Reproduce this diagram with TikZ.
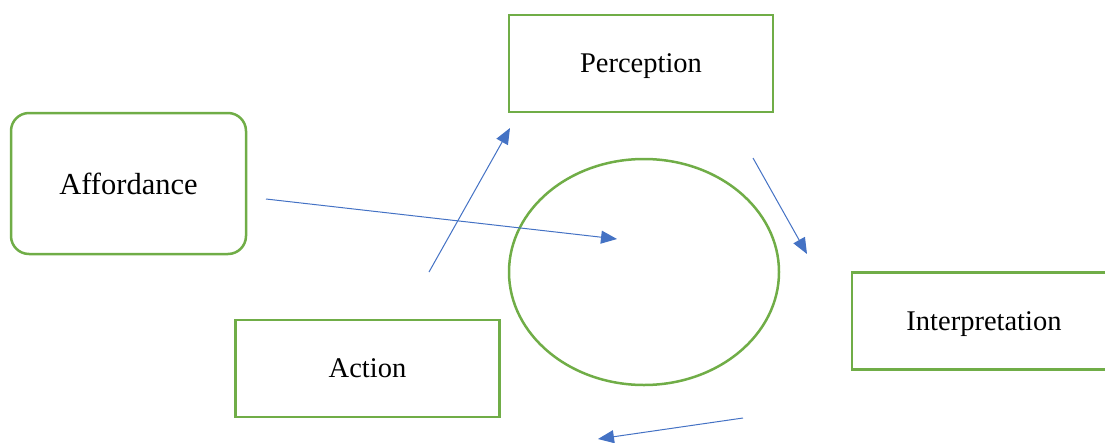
\documentclass[tikz,border=0pt]{standalone}
\usepackage{fontspec}
\setmainfont{Liberation Serif}
\usetikzlibrary{arrows.meta,positioning}
\definecolor{leafGreen}{HTML}{70AD47}
\definecolor{flowBlue}{HTML}{4472C4}

\begin{document}
\begin{tikzpicture}[x=1pt, y=-1pt,
    stage/.style={draw=leafGreen, line width=2.5pt, minimum width=264pt, minimum height=97pt, inner sep=0pt, text depth=0pt, font=\fontsize{28.5}{32}\selectfont},
    flow/.style={flowBlue, line width=1pt, -{Triangle[length=16pt, width=13pt]}}]
    \useasboundingbox (0,0) rectangle (1105,442);
    \clip (0,0) rectangle (1105,442);
    % the four stages and the loop
    \node[stage, rounded corners=18pt, minimum width=235pt, minimum height=141pt, font=\fontsize{30.5}{36}\selectfont] (afford) at (128.5,183.5) {Affordance};
    \node[stage] (percep) at (641,63.5) {Perception};
    \node[stage] (interp) at (984,321) {Interpretation};
    \node[stage] (action) at (367.5,368.5) {Action};
    \draw[leafGreen, line width=2.5pt] (644,272) ellipse [x radius=135pt, y radius=113pt];
    % free arrows
    \coordinate (a1) at (266,199);  \coordinate (b1) at (617,239);
    \coordinate (a2) at (429,272);  \coordinate (b2) at (510,128);
    \coordinate (a3) at (753,158);  \coordinate (b3) at (807,254);
    \coordinate (a4) at (743,418);  \coordinate (b4) at (598,439);
    \foreach \i in {1,...,4} \draw[flow] (a\i) -- (b\i);
\end{tikzpicture}
\end{document}
